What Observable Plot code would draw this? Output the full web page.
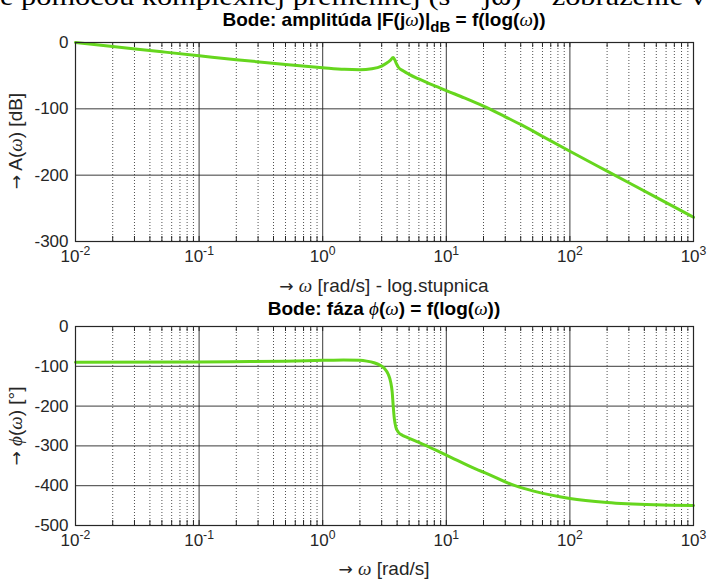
<!DOCTYPE html>
<html><head><meta charset="utf-8">
<script src="https://cdn.jsdelivr.net/npm/d3@7"></script>
<script src="https://cdn.jsdelivr.net/npm/@observablehq/plot@0.6"></script>
<style>
html,body{margin:0;padding:0;background:#fff;}
#page{position:relative;width:711px;height:581px;overflow:hidden;font-family:"Liberation Sans",Arial,sans-serif;}
.abs{position:absolute;left:0;}
</style></head><body>
<div id="page">
  <div id="topPlot" class="abs" style="top:0"></div>
  <div id="botPlot" class="abs" style="top:300px"></div>
  <svg id="overlay" class="abs" style="top:0;pointer-events:none" width="711" height="581" font-family="Liberation Sans, Arial, sans-serif">
    <text x="0" y="5" font-family="Liberation Serif, serif" font-size="25" fill="#000" textLength="706" lengthAdjust="spacingAndGlyphs">e pomocou komplexnej premennej (s = jω) – zobrazenie v</text>
    <text x="384" y="26" text-anchor="middle" font-size="19" font-weight="bold" fill="#000">Bode: amplitúda |F(j<tspan font-family="Liberation Serif, serif" font-style="italic" font-weight="normal">ω</tspan>)|<tspan dy="6" font-size="15">dB</tspan><tspan dy="-6"> = f(log(</tspan><tspan font-family="Liberation Serif, serif" font-style="italic" font-weight="normal">ω</tspan>))</text>
    <text x="384" y="292" text-anchor="middle" font-size="19" fill="#262626"><tspan font-family="DejaVu Sans" font-size="17">→</tspan> <tspan font-family="Liberation Serif, serif" font-style="italic">ω</tspan> [rad/s] - log.stupnica</text>
    <text x="384" y="315" text-anchor="middle" font-size="19" font-weight="bold" fill="#000">Bode: fáza <tspan font-family="Liberation Serif, serif" font-style="italic" font-weight="normal">ϕ</tspan>(<tspan font-family="Liberation Serif, serif" font-style="italic" font-weight="normal">ω</tspan>) = f(log(<tspan font-family="Liberation Serif, serif" font-style="italic" font-weight="normal">ω</tspan>))</text>
    <text x="384" y="575" text-anchor="middle" font-size="19" fill="#262626"><tspan font-family="DejaVu Sans" font-size="17">→</tspan> <tspan font-family="Liberation Serif, serif" font-style="italic">ω</tspan> [rad/s]</text>
    <text transform="translate(22,141) rotate(-90)" text-anchor="middle" font-size="19" fill="#262626"><tspan font-family="DejaVu Sans" font-size="17">→</tspan> A(<tspan font-family="Liberation Serif, serif" font-style="italic">ω</tspan>) [dB]</text>
    <text transform="translate(22,426) rotate(-90)" text-anchor="middle" font-size="19" fill="#262626"><tspan font-family="DejaVu Sans" font-size="17">→</tspan> <tspan font-family="Liberation Serif, serif" font-style="italic">ϕ</tspan>(<tspan font-family="Liberation Serif, serif" font-style="italic">ω</tspan>) [°]</text>
  </svg>
</div>
<script>
// ---- data ----
const omegaAmp = [0.01, 0.02, 0.05, 0.1, 0.2, 0.5, 1, 1.5, 2.0, 2.5, 3.0, 3.3, 3.5, 3.72, 3.85, 3.95, 4.08, 4.5, 5, 6, 7, 8.5, 10, 14, 20, 30, 40, 60, 100, 200, 500, 1000];
const ampDb    = [0, -6, -14, -20, -26, -33, -38, -40.5, -41, -39.5, -35.5, -31, -27.5, -22.5, -27, -32, -37, -43, -48, -55, -60.5, -67, -72.5, -83.5, -96, -112, -123.5, -141.5, -164, -194, -233.5, -263.5];

const omegaPh  = [0.01, 0.1, 0.26, 0.5, 1, 1.47, 2.0, 2.27, 2.6, 2.9, 3.15, 3.39, 3.55, 3.65, 3.72, 3.8, 3.9, 4.08, 4.4, 4.77, 6, 7.38, 10, 17.6, 20, 36, 50, 100, 200, 500, 1000];
const phaseDeg = [-90, -89.5, -88, -87, -85, -84, -85, -87, -91, -97, -105, -120, -140, -165, -200, -232, -252, -265, -273, -278, -291, -304, -323, -359, -366, -400, -413, -432, -442, -448, -450];

const decades    = [0.01, 0.1, 1, 10, 100, 1000];
const decadeTickLabels = ["10^-2", "10^-1", "10^0", "10^1", "10^2", "10^3"];
const minorMult  = [2, 3, 4, 5, 6, 7, 8, 9];
const ampTicks   = [0, -100, -200, -300];
const phaseTicks = [0, -100, -200, -300, -400, -500];

const LINE = "#66d61e";
const AX = "#262626";
const minorTicks = decades.slice(0, -1).flatMap(d => minorMult.map(m => d * m));

function bode(el, omega, values, yTicks, height, marginTop, marginBottom) {
  const frameH = height - marginTop - marginBottom;
  const data = omega.map((w, i) => ({w, v: values[i]}));
  const allTicks = [...decades, ...minorTicks];
  const svg = Plot.plot({
    width: 711, height, marginLeft: 75, marginRight: 18, marginTop, marginBottom,
    style: {fontFamily: '"Liberation Sans", Arial, sans-serif', fontSize: "17px", color: AX, background: "transparent", overflow: "visible"},
    x: {type: "log", domain: [0.01, 1000]},
    y: {domain: [yTicks[yTicks.length - 1], yTicks[0]]},
    marks: [
      Plot.ruleX(minorTicks, {stroke: AX, strokeOpacity: 0.8, strokeDasharray: "1,2"}),
      Plot.ruleX(decades.slice(1, -1), {stroke: AX, strokeOpacity: 0.9}),
      Plot.ruleY(yTicks.slice(1, -1), {stroke: AX, strokeOpacity: 0.9}),
      Plot.ruleX(allTicks, {stroke: AX, insetBottom: frameH - 5}),
      Plot.ruleX(allTicks, {stroke: AX, insetTop: frameH - 5}),
      Plot.line(data, {x: "w", y: "v", stroke: LINE, strokeWidth: 3, curve: "monotone-x"}),
      Plot.frame({stroke: AX, strokeWidth: 1.2}),
      Plot.axisY({ticks: yTicks, tickSize: 0, tickPadding: 7, label: null,
        tickFormat: d => d === 0 ? "0" : "-" + Math.abs(d)}),
      Plot.axisX({ticks: decades, tickSize: 0, tickPadding: 8, label: null,
        tickFormat: d => decadeTickLabels[decades.indexOf(d)]})
    ]
  });
  const ns = "http://www.w3.org/2000/svg";
  svg.querySelectorAll('g[aria-label="x-axis tick label"] text').forEach(t => {
    const [b, e] = t.textContent.split("^");
    t.textContent = "";
    const t1 = document.createElementNS(ns, "tspan"); t1.textContent = b;
    const t2 = document.createElementNS(ns, "tspan");
    t2.setAttribute("dy", "-0.5em"); t2.setAttribute("font-size", "0.72em"); t2.textContent = e;
    t.append(t1, t2);
  });
  el.appendChild(svg);
}

bode(document.getElementById("topPlot"), omegaAmp, ampDb, ampTicks, 300, 42, 59);
bode(document.getElementById("botPlot"), omegaPh, phaseDeg, phaseTicks, 281, 26, 56);
</script>
</body></html>
